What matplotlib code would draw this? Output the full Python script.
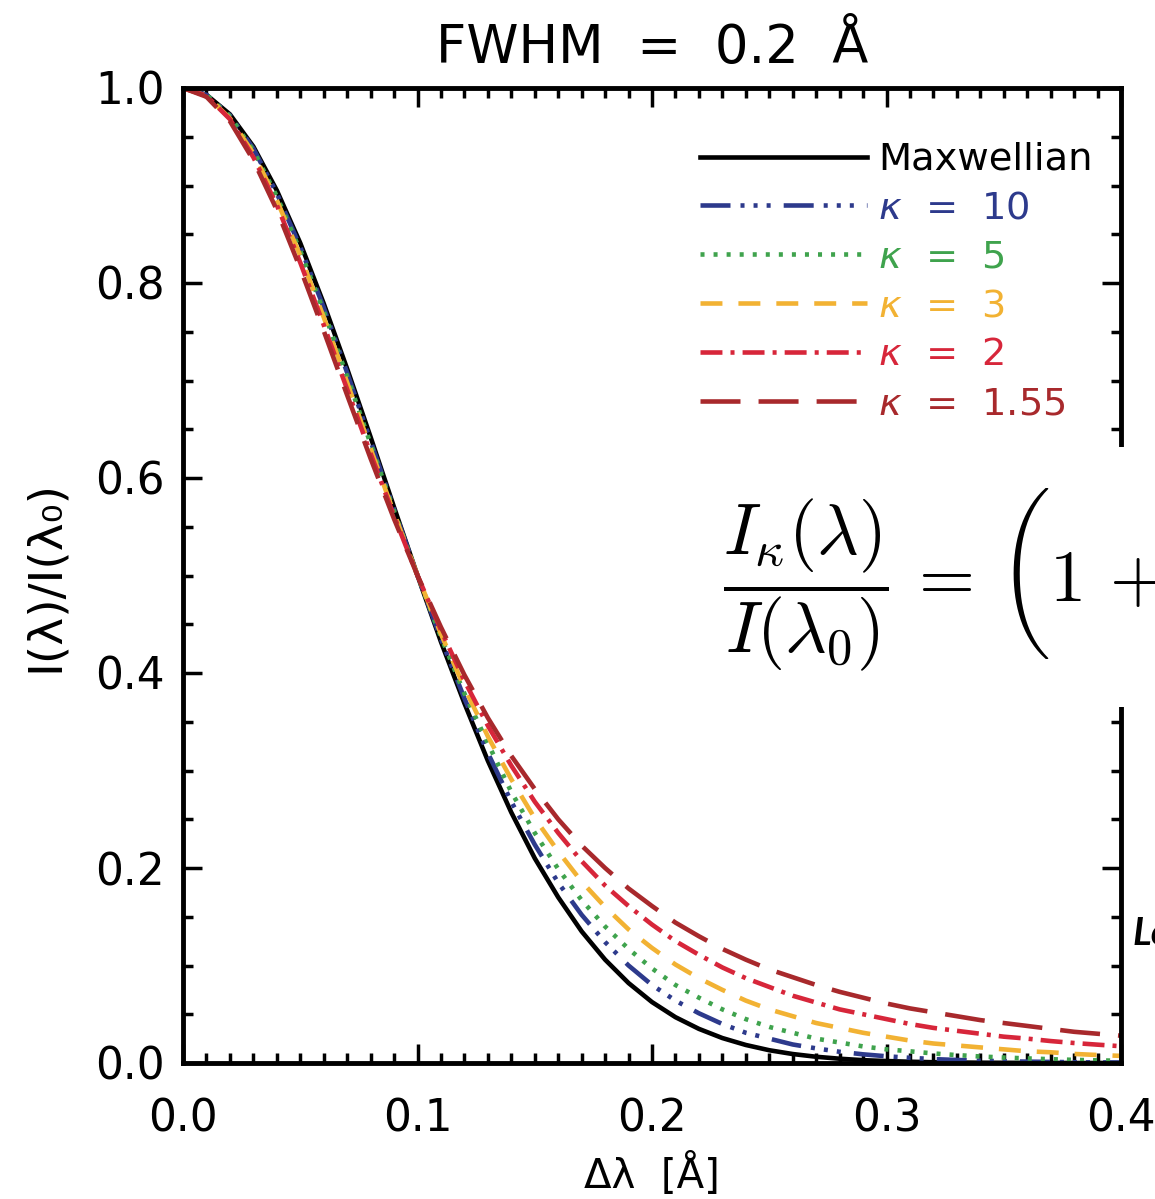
import numpy as np
import matplotlib
matplotlib.use('Agg')
import matplotlib.pyplot as plt
from matplotlib.ticker import MultipleLocator, FormatStrFormatter
from matplotlib.patches import Rectangle

# line profiles, all with FWHM = 0.2 A, every 0.01 A
dlam = np.linspace(0.0, 0.40, 41)

maxwell = [1.000, 0.993, 0.973, 0.940, 0.895, 0.841, 0.779, 0.712, 0.642, 0.570,
           0.500, 0.432, 0.369, 0.310, 0.257, 0.210, 0.170, 0.135, 0.106, 0.082,
           0.0625, 0.047, 0.035, 0.0256, 0.0185, 0.0131, 0.0092, 0.0064, 0.0044, 0.0029,
           0.0020, 0.0013, 0.0008, 0.0005, 0.0003, 0.0002, 0.0001, 0.0001, 0.0, 0.0, 0.0]
kappa10 = [1.000, 0.993, 0.972, 0.938, 0.892, 0.837, 0.775, 0.708, 0.638, 0.568,
           0.500, 0.435, 0.374, 0.318, 0.268, 0.224, 0.185, 0.152, 0.124, 0.100,
           0.080, 0.064, 0.051, 0.040, 0.031, 0.025, 0.019, 0.015, 0.0115, 0.0089,
           0.0069, 0.0053, 0.0040, 0.0031, 0.0024, 0.0018, 0.0014, 0.0011, 0.0008, 0.0006, 0.0005]
kappa5 = [1.000, 0.993, 0.971, 0.936, 0.889, 0.833, 0.771, 0.704, 0.635, 0.566,
          0.500, 0.437, 0.379, 0.328, 0.278, 0.236, 0.199, 0.167, 0.140, 0.117,
          0.097, 0.080, 0.067, 0.055, 0.045, 0.037, 0.031, 0.025, 0.021, 0.017,
          0.014, 0.012, 0.0098, 0.0081, 0.0067, 0.0056, 0.0047, 0.0039, 0.0032, 0.0027, 0.0023]
kappa3 = [1.000, 0.992, 0.969, 0.933, 0.885, 0.828, 0.765, 0.698, 0.630, 0.564,
          0.500, 0.440, 0.385, 0.335, 0.291, 0.251, 0.217, 0.186, 0.160, 0.137,
          0.118, 0.101, 0.087, 0.075, 0.064, 0.055, 0.048, 0.041, 0.036, 0.031,
          0.027, 0.023, 0.020, 0.018, 0.016, 0.014, 0.012, 0.011, 0.0093, 0.0082, 0.0073]
kappa2 = [1.000, 0.992, 0.968, 0.929, 0.880, 0.821, 0.757, 0.691, 0.625, 0.561,
          0.500, 0.444, 0.392, 0.346, 0.305, 0.268, 0.236, 0.207, 0.182, 0.161,
          0.142, 0.125, 0.111, 0.098, 0.087, 0.078, 0.069, 0.062, 0.055, 0.050,
          0.045, 0.040, 0.036, 0.033, 0.030, 0.027, 0.025, 0.0225, 0.0205, 0.0188, 0.0172]
kappa155 = [1.000, 0.991, 0.966, 0.926, 0.875, 0.815, 0.751, 0.685, 0.620, 0.558,
            0.500, 0.447, 0.398, 0.354, 0.315, 0.281, 0.250, 0.223, 0.200, 0.179,
            0.161, 0.144, 0.130, 0.117, 0.106, 0.096, 0.088, 0.080, 0.073, 0.067,
            0.061, 0.056, 0.052, 0.048, 0.044, 0.041, 0.038, 0.035, 0.032, 0.030, 0.028]

profiles = [maxwell, kappa10, kappa5, kappa3, kappa2, kappa155]
labels = ['Maxwellian', r'$\kappa$  =  10', r'$\kappa$  =  5', r'$\kappa$  =  3',
          r'$\kappa$  =  2', r'$\kappa$  =  1.55']
colors = ['black', '#2d3a8c', '#3fa34d', '#f2b233', '#d7263a', '#a8292c']
dashes = [None,
          (21.6, 7.2, 2.9, 6.5, 2.9, 6.5, 2.9, 9.4),
          (2.9, 6.5),
          (15.8, 11.5),
          (15.8, 5.8, 2.9, 5.8),
          (28.8, 13.0)]

plt.rcParams['font.family'] = 'DejaVu Sans'
plt.rcParams['lines.scale_dashes'] = False

W, H = 1155, 1199
fig = plt.figure(figsize=(W / 100, H / 100), dpi=100)
ax = fig.add_axes([183 / W, 1 - 1063 / H, (1121 - 183) / W, (1063 - 88) / H])

for y, lab, c, d in zip(profiles, labels, colors, dashes):
    if d is None:
        ax.plot(dlam, y, color=c, lw=3.3, label=lab)
    else:
        ax.plot(dlam, y, color=c, lw=3.3, dashes=d, label=lab)

ax.set_xlim(0, 0.4)
ax.set_ylim(0, 1.0)
ax.xaxis.set_major_locator(MultipleLocator(0.1))
ax.xaxis.set_minor_locator(MultipleLocator(0.01))
ax.yaxis.set_major_locator(MultipleLocator(0.2))
ax.yaxis.set_minor_locator(MultipleLocator(0.05))
ax.xaxis.set_major_formatter(FormatStrFormatter('%.1f'))
ax.yaxis.set_major_formatter(FormatStrFormatter('%.1f'))
ax.tick_params(which='both', direction='in', top=True, right=True, width=2.5)
ax.tick_params(which='major', length=14, labelsize=31.5)
ax.tick_params(which='minor', length=7)
ax.tick_params(axis='x', pad=25)
ax.tick_params(axis='y', pad=13)
for s in ax.spines.values():
    s.set_linewidth(3.5)

fig.canvas.draw()
ylabs = ax.get_yticklabels()
ylabs[0].set_va('bottom')
ylabs[-1].set_va('top')

ax.set_title('FWHM  =  0.2  Å', fontsize=38, pad=18)
ax.set_xlabel('Δλ  [Å]', fontsize=29)
ax.xaxis.set_label_coords(0.5, -0.092)
ax.set_ylabel('I(λ)/I(λ₀)', fontsize=34)
ax.yaxis.set_label_coords(-0.123, 0.5)

ax.legend(loc='upper left', bbox_to_anchor=(700 / W, 1 - 142 / H),
          bbox_transform=fig.transFigure, frameon=False, fontsize=27.6,
          handlelength=4.35, handletextpad=0.29, labelspacing=0.334,
          borderpad=0, borderaxespad=0, labelcolor=colors)

# pasted formula panel covering the right edge
fig.patches.append(Rectangle((715 / W, 1 - 707 / H), 1 - 715 / W, 260 / H,
                             transform=fig.transFigure, facecolor='white',
                             edgecolor='none', zorder=5))
fig.text(723 / W, 1 - 580 / H,
         r'$\dfrac{I_\kappa(\lambda)}{I(\lambda_0)} \,=\, \left(1 \,+ \qquad'
         r'\dfrac{(\lambda-\lambda_0)^2}{2\kappa\sigma^2}\right)^{-\kappa}$',
         fontsize=52, math_fontfamily='cm', ha='left', va='center', zorder=6)
fig.text(1133 / W, 1 - 945 / H, 'Lo', fontsize=28, fontweight='bold',
         style='italic', family='Lato', ha='left', va='baseline')

fig.savefig('out.png', dpi=100)
